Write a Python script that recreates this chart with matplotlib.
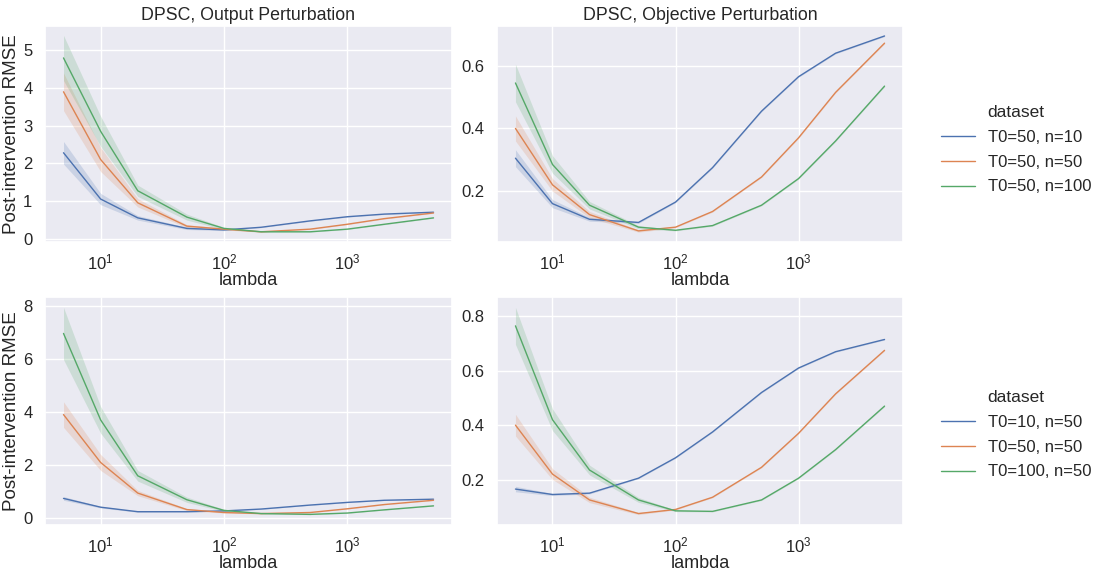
import numpy as np
import matplotlib
matplotlib.use("Agg")
import matplotlib.pyplot as plt
import seaborn as sns

sns.set_theme(style="darkgrid", palette="deep")
plt.rcParams["font.family"] = ["Liberation Sans", "DejaVu Sans"]

LAMBDAS = [5, 10, 20, 50, 100, 200, 500, 1000, 2000, 5000]
COLORS = sns.color_palette("deep")[:3]

# ── 1행: n 변화 (T0=50 고정) ─────────────────────────────
N_LABELS = ["T0=50, n=10", "T0=50, n=50", "T0=50, n=100"]

OUT_N_MEAN = [
    [2.28, 1.05, 0.55, 0.27, 0.23, 0.30, 0.47, 0.58, 0.65, 0.70],
    [3.90, 2.10, 0.95, 0.33, 0.25, 0.18, 0.25, 0.38, 0.53, 0.68],
    [4.80, 2.85, 1.27, 0.57, 0.27, 0.18, 0.18, 0.25, 0.38, 0.55],
]
OUT_N_ERR = [
    [0.30, 0.15, 0.06, 0.03, 0.02, 0.01, 0.01, 0.01, 0.01, 0.01],
    [0.50, 0.32, 0.11, 0.04, 0.02, 0.01, 0.01, 0.01, 0.01, 0.01],
    [0.60, 0.40, 0.15, 0.08, 0.03, 0.01, 0.01, 0.01, 0.01, 0.01],
]
OBJ_N_MEAN = [
    [0.305, 0.160, 0.110, 0.100, 0.165, 0.275, 0.455, 0.565, 0.640, 0.695],
    [0.400, 0.220, 0.125, 0.073, 0.085, 0.135, 0.245, 0.370, 0.515, 0.672],
    [0.545, 0.285, 0.155, 0.085, 0.075, 0.090, 0.155, 0.240, 0.360, 0.535],
]
OBJ_N_ERR = [
    [0.027, 0.013, 0.006, 0.003, 0.002, 0.002, 0.002, 0.002, 0.002, 0.002],
    [0.040, 0.020, 0.010, 0.004, 0.002, 0.002, 0.002, 0.002, 0.002, 0.002],
    [0.060, 0.028, 0.012, 0.005, 0.002, 0.002, 0.002, 0.002, 0.002, 0.002],
]

# ── 2행: T0 변화 (n=50 고정) ─────────────────────────────
T_LABELS = ["T0=10, n=50", "T0=50, n=50", "T0=100, n=50"]

OUT_T_MEAN = [
    [0.75, 0.42, 0.25, 0.25, 0.28, 0.35, 0.50, 0.60, 0.68, 0.72],
    [3.90, 2.10, 0.95, 0.33, 0.22, 0.18, 0.22, 0.36, 0.52, 0.68],
    [6.95, 3.70, 1.60, 0.70, 0.30, 0.18, 0.15, 0.20, 0.32, 0.47],
]
OUT_T_ERR = [
    [0.07, 0.03, 0.02, 0.01, 0.01, 0.01, 0.01, 0.01, 0.01, 0.01],
    [0.48, 0.30, 0.10, 0.04, 0.02, 0.01, 0.01, 0.01, 0.01, 0.01],
    [0.98, 0.50, 0.20, 0.10, 0.04, 0.01, 0.01, 0.01, 0.01, 0.01],
]
OBJ_T_MEAN = [
    [0.165, 0.145, 0.150, 0.205, 0.280, 0.375, 0.520, 0.610, 0.670, 0.715],
    [0.400, 0.220, 0.125, 0.075, 0.090, 0.135, 0.245, 0.370, 0.515, 0.675],
    [0.765, 0.420, 0.235, 0.125, 0.085, 0.083, 0.125, 0.205, 0.310, 0.470],
]
OBJ_T_ERR = [
    [0.010, 0.004, 0.003, 0.002, 0.002, 0.002, 0.002, 0.002, 0.002, 0.002],
    [0.040, 0.020, 0.010, 0.004, 0.002, 0.002, 0.002, 0.002, 0.002, 0.002],
    [0.068, 0.040, 0.018, 0.009, 0.003, 0.002, 0.002, 0.002, 0.002, 0.002],
]


def draw_panel(ax, means, errs, labels):
    x = np.array(LAMBDAS)
    for mean, err, label, color in zip(means, errs, labels, COLORS):
        mean = np.array(mean)
        err = np.array(err)
        ax.fill_between(x, mean - err, mean + err, color=color, alpha=0.2, linewidth=0)
        ax.plot(x, mean, color=color, linewidth=1, label=label)
    ax.set_xscale("log")
    ax.tick_params(labelsize=12, pad=3)
    ax.tick_params(axis="x", pad=1.5)
    ax.set_xlabel("lambda", fontsize=13, labelpad=0)


fig = plt.figure(figsize=(10.93, 5.73), dpi=100)
W, H = 1093, 573
ax_tl = fig.add_axes([45 / W, 1 - 242 / H, 407 / W, 216.5 / H])
ax_tr = fig.add_axes([497 / W, 1 - 242 / H, 406 / W, 216.5 / H])
ax_bl = fig.add_axes([45 / W, 1 - 525 / H, 407 / W, 228 / H])
ax_br = fig.add_axes([497 / W, 1 - 525 / H, 406 / W, 228 / H])

draw_panel(ax_tl, OUT_N_MEAN, OUT_N_ERR, N_LABELS)
draw_panel(ax_tr, OBJ_N_MEAN, OBJ_N_ERR, N_LABELS)
draw_panel(ax_bl, OUT_T_MEAN, OUT_T_ERR, T_LABELS)
draw_panel(ax_br, OBJ_T_MEAN, OBJ_T_ERR, T_LABELS)

ax_tl.set_title("DPSC, Output Perturbation", fontsize=12.8, pad=4)
ax_tr.set_title("DPSC, Objective Perturbation", fontsize=12.8, pad=4)
ax_tl.set_ylabel("Post-intervention RMSE", fontsize=13.5, labelpad=2)
ax_bl.set_ylabel("Post-intervention RMSE", fontsize=13.5, labelpad=2)

ax_tr.set_yticks([0.2, 0.4, 0.6])
ax_br.set_yticks([0.2, 0.4, 0.6, 0.8])
ax_bl.set_yticks([0, 2, 4, 6, 8])

for ax, y in [(ax_tr, 1 - 150 / H), (ax_br, 1 - 435 / H)]:
    handles, labels = ax.get_legend_handles_labels()
    fig.legend(handles, labels, title="dataset", loc="center left",
               bbox_to_anchor=(928 / W, y), frameon=False,
               fontsize=12, title_fontsize=12.5, handlelength=2.0,
               handletextpad=0.78, labelspacing=0.58, borderpad=0.3)

fig.savefig("out.png", dpi=100)
